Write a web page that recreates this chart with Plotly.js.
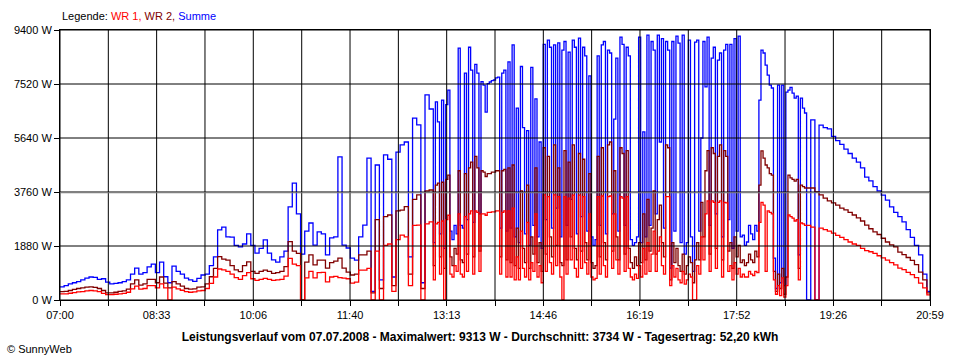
<!DOCTYPE html>
<html>
<head>
<meta charset="utf-8">
<script src="https://cdn.plot.ly/plotly-3.0.1.min.js"></script>
<style>html,body{margin:0;padding:0;background:#fff;}#chart{width:960px;height:360px;}</style>
</head>
<body>
<div id="chart"></div>
<script>
// Sampling plan (minutes after 07:00): [first sample, interval, number of samples]
// 4-minute readings in the morning, 2-minute readings in the cloudy midday, 4-minute in the evening
const samplingPlan = [[0, 4, 91], [362, 2, 179], [720, 4, 31]];

// Summe (W)
const summe = [
// 07:00 - 13:00 (4 min)
460, 500, 560, 600, 640, 700, 760, 800, 790, 720,
740, 620, 560, 580, 600, 640, 700, 900, 1110, 900,
950, 1150, 1250, 950, 1320, 810, 600, 1180, 1000, 900,
760, 700, 650, 750, 870, 900, 1200, 1500, 2440, 2540,
2200, 2190, 1900, 1850, 1950, 2300, 1900, 1630, 1800, 2090,
1630, 1400, 1320, 1500, 1700, 3240, 4070, 3000, 1600, 2400,
2680, 1910, 2370, 2300, 1570, 2160, 2200, 4980, 1910, 1810,
1460, 1390, 2200, 2610, 4940, 300, 4700, 700, 5050, 4900,
800, 5150, 5400, 5500, 1500, 6330, 6100, 600, 7140, 6650,
2000,
// 13:02 - 18:58 (2 min)
6900, 6200, 2300, 6960, 1800, 6800,
7310, 2400, 2100, 2600, 2300,
8770, 2600, 2500, 7900, 2800, 8800, 8000, 2700, 8200, 7900, 3000, 7600,
7480, 6540, 7530, 7590, 7640, 7660, 7730,
7760, 2500, 7900, 8000, 2400, 8290,
2500, 8880, 2200, 6680, 2000, 8130, 6000, 2300, 5900, 1900, 8100, 2600, 7000, 2200, 5500, 1800,
8900, 2800, 9050, 8800, 2500, 8880, 3200, 8950, 2200, 8700, 9000, 2600, 8630, 3500, 9050, 8800, 2300, 9120, 2900, 8800, 8500, 2400, 7800,
2200, 1900, 2100,
8500, 2600, 8880, 9000, 2300, 8700, 8600, 3000, 6300, 8420, 2400, 9150, 8900, 2600, 8800, 8500,
2100, 1900, 2000, 2200, 9150, 2000,
5850, 2200, 9220, 2600, 9000, 8700, 3000, 9220, 5500, 9100, 2500, 9000, 8700,
1110, 9000, 2400, 9190, 8940, 2000, 9220, 1600, 2000, 9050, 2200, 1000, 8980,
9050, 2400, 5640, 9000, 7420, 9150, 2600, 8420, 8800, 3000, 8350, 8600, 2200, 8700, 8900, 2800,
8900, 1800, 9100, 2400, 9190, 2200,
2260, 1900, 2020, 2600, 2300, 2100, 2600, 2400,
6960, 8700, 8600, 8180, 7830, 7480, 7380,
1460, 400, 7480, 600, 7480, 500, 7240,
7310, 7400, 7200, 7030, 7100,
1570, 7030, 6680, 6510,
// 19:00 - 21:00 (4 min)
0, 6270, 0, 6090, 6000, 5960, 5700, 5550, 5420, 5250,
5100, 4940, 4800, 4600, 4280, 4150, 3950, 3800, 3650, 3480,
3240, 3050, 2900, 2720, 2450, 2180, 1900, 1570, 900, 300, 50
];

// WR 2 (W)
const wr2 = [
290, 300, 330, 370, 400, 420, 450, 460, 440, 400,
330, 250, 250, 270, 300, 320, 380, 560, 700, 520,
560, 720, 720, 600, 800, 590, 420, 640, 560, 480,
400, 380, 390, 450, 460, 560, 810, 1100, 1510, 1420,
1390, 1200, 1050, 990, 1200, 1330, 1000, 930, 1000, 1040,
1000, 930, 950, 1000, 1160, 2030, 1700, 1620, 0, 1320,
1570, 1220, 1390, 1390, 1110, 1300, 1350, 1460, 1110, 970,
870, 900, 1570, 1570, 1700, 250, 2800, 400, 2900, 2960,
500, 3100, 3130, 3250, 900, 3500, 3660, 400, 3800, 3830,
1200,
4000, 4070, 1500, 4100, 1100, 4200,
4350, 1500, 1200, 1800, 1600,
4500, 1400, 1300, 4400, 1600, 4600, 4800, 1500, 5000, 4600, 1700, 4500,
4450, 4300, 4400, 4400, 4450, 4450, 4500,
4500, 1500, 4500, 4550, 1400, 4600,
1300, 4700, 1200, 2500, 1100, 3800, 1800, 1300, 4000, 1100, 2200, 1600, 4600, 1300, 2000, 1000,
5300, 1600, 5000, 2200, 1500, 5400, 1900, 4600, 1300, 1200, 5200, 1400, 4800, 2200, 5400, 1800, 1400, 5100, 1700, 4900, 2000, 1400, 4400,
1300, 1100, 1200,
5000, 1500, 5300, 2000, 1400, 5400, 5500, 1700, 4500, 2200, 1400, 5300, 5100, 1600, 5200, 1800,
1300, 1100, 1500, 1200, 2000, 1300,
3000, 1400, 3500, 1700, 2500, 3800, 1600, 2800, 3300, 2000, 1500, 5400, 5300,
700, 2000, 1300, 1800, 1200, 1000, 1600, 900, 1200, 1500, 1300, 600, 1400,
2000, 1400, 3400, 2200, 4500, 5200, 1600, 5300, 5100, 1800, 5000, 5400, 1400, 5200, 5000, 1700,
2000, 1100, 2200, 1500, 1900, 1300,
1400, 1200, 1300, 1600, 1400, 1300, 1700, 1500,
4000, 5190, 4940, 4700, 4600, 4400, 4350,
1000, 300, 900, 400, 1100, 200, 800,
4350, 4250, 4200, 4140, 4200,
1100, 4000, 3950, 3900,
3900, 3900, 3760, 3660, 3550, 3450, 3380, 3300, 3200, 3140,
3050, 2960, 2860, 2750, 2610, 2480, 2370, 2280, 2150, 2020,
1920, 1850, 1670, 1580, 1480, 1380, 1230, 970, 700, 250, 40
];

// WR 1 (W)
const wr1 = [
210, 215, 235, 255, 280, 295, 315, 330, 320, 290,
230, 185, 185, 200, 215, 230, 270, 390, 480, 380,
400, 500, 500, 420, 560, 420, 0, 450, 390, 340,
290, 270, 280, 320, 330, 400, 580, 800, 1080, 1050,
1000, 900, 780, 720, 850, 950, 740, 680, 720, 750,
720, 680, 700, 720, 830, 1450, 1250, 1200, 0, 770,
1000, 770, 950, 960, 630, 800, 820, 780, 760, 740,
590, 620, 1040, 1040, 1100, 0, 1700, 0, 1900, 1950,
300, 2100, 2260, 2200, 500, 2600, 2610, 0, 2650, 2720,
700,
2650, 2700, 900, 2750, 0, 2800,
2950, 900, 800, 1200, 1000,
3000, 900, 800, 2900, 1000, 3000, 3100, 900, 3100, 3050, 1000, 3000,
3000, 2950, 3050, 3050, 3070, 3070, 3100,
3100, 900, 3050, 3100, 800, 3100,
800, 3200, 700, 1500, 700, 2400, 1100, 800, 2700, 700, 1300, 1000, 3000, 800, 1200, 600,
3660, 1000, 3600, 1300, 900, 3660, 1200, 3600, 800, 0, 3600, 900, 3550, 1400, 3650, 1100, 800, 3650, 1100, 3600, 1300, 900, 3000,
800, 700, 750,
3600, 900, 3620, 1200, 800, 3600, 3620, 1100, 3000, 1400, 900, 3600, 3550, 1000, 3600, 1100,
800, 700, 900, 750, 1200, 800,
1800, 900, 2000, 1000, 1600, 2400, 1000, 1700, 2200, 1200, 900, 3600, 3600,
500, 1200, 800, 1100, 700, 600, 1000, 550, 700, 900, 800, 0, 0,
1200, 900, 2200, 1400, 3000, 3450, 1000, 3450, 3400, 1100, 3400, 3450, 800, 3400, 3380, 1000,
1200, 700, 1300, 900, 1100, 800,
900, 800, 800, 1000, 900, 850, 1000, 950,
2700, 3400, 3300, 1000, 3100, 3050, 3000,
700, 200, 500, 150, 770, 100, 500,
2960, 2900, 2850, 2750, 2800,
700, 2680, 2650, 2600,
2600, 2540, 0, 2500, 2450, 2400, 2330, 2250, 2180, 2100,
2020, 1950, 1900, 1800, 1720, 1680, 1620, 1540, 1470, 1390,
1300, 1220, 1110, 1060, 960, 880, 780, 590, 420, 180, 30
];

const averageW = 3734;

// Axis ticks
const xTickVals = [0, 46.6, 93.2, 139.8, 186.4, 233.1, 279.7, 326.3, 372.9, 419.5, 466.1, 512.7, 559.3, 605.9, 652.6, 699.2, 745.8, 792.4, 839];
const xTickText = ['07:00', '', '08:33', '', '10:06', '', '11:40', '', '13:13', '', '14:46', '', '16:19', '', '17:52', '', '19:26', '', '20:59'];
const yTickVals = [0, 1880, 3760, 5640, 7520, 9400];
const yTickText = ['0 W', '1880 W', '3760 W', '5640 W', '7520 W', '9400 W'];

const times = [];
samplingPlan.forEach(([first, interval, count]) => {
  for (let k = 0; k < count; k++) times.push(first + k * interval);
});

const FONT = 'Liberation Sans, Arial, sans-serif';

function series(name, vals, color) {
  return {type: 'scatter', mode: 'lines', name: name, x: times, y: vals,
    line: {color: color, width: 1.3, shape: 'hv'}, hoverinfo: 'skip'};
}

const traces = [
  series('Summe', summe, '#0000ff'),
  series('WR 2', wr2, '#800000'),
  series('WR 1', wr1, '#ff0000')
];

const shapes = [];
xTickVals.forEach(v => shapes.push({type: 'line', layer: 'above', xref: 'x', yref: 'paper', x0: v, x1: v, y0: 0, y1: 1, line: {color: '#000', width: 1}}));
yTickVals.forEach(v => shapes.push({type: 'line', layer: 'above', xref: 'paper', yref: 'y', x0: 0, x1: 1, y0: v, y1: v, line: {color: '#000', width: 1}}));
shapes.push({type: 'line', layer: 'above', xref: 'paper', yref: 'y', x0: 0, x1: 1, y0: averageW, y1: averageW, line: {color: '#808080', width: 1}});

const layout = {
  width: 960, height: 360,
  margin: {l: 60, r: 30, t: 30, b: 60, pad: 0},
  paper_bgcolor: '#fff', plot_bgcolor: '#fff',
  showlegend: false,
  font: {family: FONT, size: 11, color: '#000'},
  title: {
    text: '<b>Leistungsverlauf vom 07.07.2008 - Maximalwert: 9313 W - Durchschnitt: 3734 W - Tagesertrag: 52,20 kWh</b>',
    font: {family: FONT, size: 12, color: '#000'},
    xref: 'container', yref: 'container', x: 0.5, xanchor: 'center', y: 0.064, yanchor: 'middle'
  },
  xaxis: {
    range: [0, 839], showgrid: false, zeroline: false,
    showline: true, mirror: true, linecolor: '#000', linewidth: 1,
    ticks: 'outside', ticklen: 5, tickcolor: '#000', tickwidth: 1,
    tickmode: 'array', tickvals: xTickVals, ticktext: xTickText,
    tickfont: {family: FONT, size: 11, color: '#000'}, fixedrange: true
  },
  yaxis: {
    range: [0, 9400], showgrid: false, zeroline: false,
    showline: true, mirror: true, linecolor: '#000', linewidth: 1,
    ticks: 'outside', ticklen: 5, tickcolor: '#000', tickwidth: 1,
    tickmode: 'array', tickvals: yTickVals, ticktext: yTickText,
    tickfont: {family: FONT, size: 11, color: '#000'}, fixedrange: true
  },
  shapes: shapes,
  annotations: [
    {xref: 'paper', yref: 'paper', x: 0, y: 1.052, xanchor: 'left', yanchor: 'middle', showarrow: false,
     text: 'Legende: <span style="color:#ff0000">WR 1,</span> <span style="color:#800000">WR 2,</span> <span style="color:#0000ff">Summe</span>',
     font: {family: FONT, size: 11, color: '#000'}},
    {xref: 'paper', yref: 'paper', x: -0.0632, y: -0.181, xanchor: 'left', yanchor: 'middle', showarrow: false,
     text: '© SunnyWeb', font: {family: FONT, size: 11, color: '#000'}}
  ]
};

Plotly.newPlot('chart', traces, layout, {staticPlot: true, displayModeBar: false});
</script>
</body>
</html>
